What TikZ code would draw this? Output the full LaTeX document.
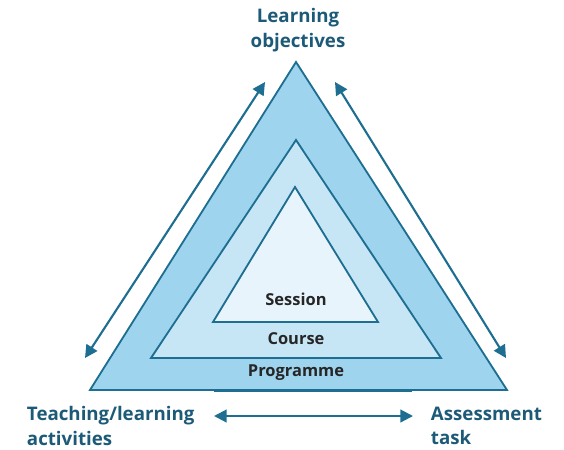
\documentclass[tikz,border=0pt]{standalone}
\usepackage{fontspec}
\setmainfont{Open Sans}
\usetikzlibrary{arrows.meta}
\definecolor{edgeblue}{RGB}{30,110,145}
\definecolor{labelblue}{RGB}{28,90,120}
\definecolor{outerfill}{RGB}{158,212,238}
\definecolor{midfill}{RGB}{198,230,246}
\definecolor{innerfill}{RGB}{232,244,251}
\tikzset{
  tri/.style={draw=edgeblue, line width=1.3pt, line join=miter},
  link/.style={draw=edgeblue, line width=1.5pt, {Triangle[length=9pt,width=9pt]}-{Triangle[length=9pt,width=9pt]}},
  corner/.style={text=labelblue, font=\bfseries\fontsize{13.3}{17.5}\selectfont, align=left},
  level/.style={text=black!85, font=\bfseries\fontsize{11.7}{12}\selectfont}
}

\begin{document}
\begin{tikzpicture}[x=0.025cm, y=-0.025cm]
			%%%%% START %%%%%
			\useasboundingbox (0, 0) rectangle (564, 449);
			
			\draw[tri, fill=outerfill] (296, 62) -- (507, 390) -- (90, 390) -- cycle;
			\draw[edgeblue, line width=2pt] (214, 391) -- (412, 391);
			\draw[tri, fill=midfill] (296, 140) -- (441, 358) -- (151, 358) -- cycle;
			\draw[tri, fill=innerfill] (295, 187) -- (378, 322) -- (213, 322) -- cycle;
			
			\node[level] (session) at (296, 299) {Session};
			\node[level] (course) at (296, 339) {Course};
			\node[level] (programme) at (296, 373) {Programme};
			
			\node[corner, align=center] (objectives) at (298, 30) {Learning\\objectives};
			\node[corner, anchor=west] (activities) at (22, 426) {Teaching/learning\\activities};
			\node[corner, anchor=west] (assessment) at (426, 426) {Assessment\\task};
			
			\coordinate (la) at (85, 358);
			\coordinate (lb) at (265, 82);
			\coordinate (ra) at (335, 82);
			\coordinate (rb) at (506, 358);
			\coordinate (ba) at (214, 416);
			\coordinate (bb) at (413, 416);
			\draw[link] (la) -- (lb);
			\draw[link] (ra) -- (rb);
			\draw[link] (ba) -- (bb);
			%%%%% END %%%%%
\end{tikzpicture}
\end{document}
